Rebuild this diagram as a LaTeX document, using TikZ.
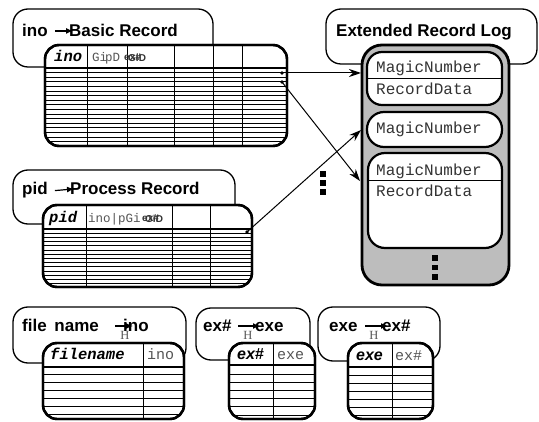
\documentclass[tikz,border=0pt]{standalone}
\usepackage{fontspec}
\setmainfont{Liberation Sans}
\newfontfamily\monof{Liberation Mono}
\newfontfamily\seriff{Liberation Serif}
\usetikzlibrary{arrows.meta}
\definecolor{logfill}{RGB}{189,189,189}
\definecolor{softtext}{RGB}{85,85,85}
\tikzset{
  titlebox/.style={draw, line width=1.3pt, rounded corners=15pt, fill=white},
  tablebox/.style={draw, line width=2.4pt, rounded corners=14pt, fill=white},
  tableedge/.style={draw, line width=2.4pt, rounded corners=14pt},
  rowline/.style={line width=0.7pt},
  colline/.style={line width=0.9pt},
  headline/.style={line width=1.1pt},
  titletext/.style={font=\fontsize{17}{18}\selectfont\bfseries, anchor=base west, inner sep=0pt},
  titlearrow/.style={line width=1.2pt, -{Latex[length=7pt,width=6pt]}},
  keytext/.style={font=\monof\bfseries\itshape\fontsize{15.5}{16}\selectfont, anchor=base west, inner sep=0pt},
  keysans/.style={font=\bfseries\itshape\fontsize{16}{16}\selectfont, anchor=base west, inner sep=0pt},
  valtext/.style={font=\monof\fontsize{15}{16}\selectfont, text=softtext, anchor=base west, inner sep=0pt},
  smallval/.style={font=\monof\fontsize{12.5}{13}\selectfont, text=softtext, anchor=base west, inner sep=0pt},
  tinybold/.style={font=\bfseries\fontsize{10}{10}\selectfont, text=black!80, anchor=base west, inner sep=0pt},
  magictext/.style={font=\monof\fontsize{16}{16}\selectfont, text=black!80, anchor=base west, inner sep=0pt},
  hmark/.style={font=\seriff\fontsize{12.5}{12}\selectfont, text=softtext, inner sep=0pt},
  dotnode/.style={circle, fill=black, inner sep=0pt, minimum size=3.6pt},
  sqdot/.style={rectangle, fill=black, inner sep=0pt, minimum size=5.6pt},
  linkarrow/.style={line width=1pt, -{Stealth[length=12pt,width=8pt]}},
  recbox/.style={draw, line width=2.2pt, fill=white},
}
\begin{document}
\begin{tikzpicture}[x=1pt,y=-1pt]
\useasboundingbox (0,0) rectangle (539,422);

% ---------------- Basic Record ----------------
\draw[titlebox] (13,9) rectangle (213,67);
\node[titletext] (bKey) at (22,37) {ino};
\node[titletext] (bName) at (69,37) {Basic Record};
\draw[titlearrow] ([xshift=7pt]bKey.east) -- ([xshift=4pt]bName.west);

\draw[tablebox] (45,45) rectangle (287,146);
\begin{scope}
  \clip[rounded corners=14pt] (45,45) rectangle (287,146);
  \foreach \yy in {72.6,77.2,...,143} \draw[rowline] (45,\yy) -- (287,\yy);
  \draw[headline] (45,68) -- (287,68);
  \foreach \xx in {87,127,174,213,242} \draw[colline] (\xx,45) -- (\xx,146);
\end{scope}
\draw[tableedge] (45,45) rectangle (287,146);
\node[keytext] (bH1) at (54,62) {ino};
\node[smallval] (bH2) at (92,62) {Gi};
\node[smallval] (bH3) at (105,62) {pD};
\node[tinybold] (bH4) at (124,61) {ex\#};
\node[tinybold] (bH5) at (128,62) {GiD};

\node[dotnode] (d1) at (282,73) {};
\node[dotnode] (d2) at (282,82) {};

% ---------------- Process Record ----------------
\draw[titlebox] (13,170) rectangle (235,224);
\node[titletext] (pKey) at (22,195) {pid};
\node[titletext] (pName) at (70,195) {Process Record};
\draw[titlearrow] ([xshift=7pt]pKey.east) -- ([xshift=4pt]pName.west);

\draw[tablebox] (43,205) rectangle (252,287);
\begin{scope}
  \clip[rounded corners=14pt] (43,205) rectangle (252,287);
  \foreach \yy in {233.2,237.4,...,286} \draw[rowline] (43,\yy) -- (252,\yy);
  \draw[headline] (43,229) -- (252,229);
  \foreach \xx in {86,172,210} \draw[colline] (\xx,205) -- (\xx,287);
\end{scope}
\draw[tableedge] (43,205) rectangle (252,287);
\node[keytext] (pH1) at (49,223) {pid};
\node[smallval] (pH2) at (88,223) {ino|pGi};
\node[tinybold] (pH3) at (142,222) {ex\#};
\node[tinybold] (pH4) at (145,223) {GiD};

\node[dotnode] (d3) at (247,232) {};

% ---------------- Extended Record Log ----------------
\draw[titlebox] (326,9) rectangle (537,64);
\node[titletext] (eName) at (336,37) {Extended Record Log};

\draw[line width=2.8pt, rounded corners=20pt, fill=logfill] (362,45) rectangle (509,285);

\draw[recbox, rounded corners=15pt] (367,52) rectangle (502,105);
\draw[line width=1pt] (367,79) -- (502,79);
\node[magictext] (r1a) at (376,73) {MagicNumber};
\node[magictext] (r1b) at (376,95) {RecordData};

\draw[recbox, rounded corners=17pt] (367,112) rectangle (502,147);
\node[magictext] (r2a) at (376,133.5) {MagicNumber};

\draw[recbox, rounded corners=17pt] (368,153) rectangle (502,248);
\draw[line width=1pt] (368,181) -- (502,181);
\node[magictext] (r3a) at (376,176) {MagicNumber};
\node[magictext] (r3b) at (376,197) {RecordData};

\node[sqdot] (v1) at (435,258) {};
\node[sqdot] (v2) at (435,267.5) {};
\node[sqdot] (v3) at (435,277) {};

\node[sqdot] (w1) at (323,174) {};
\node[sqdot] (w2) at (323,183) {};
\node[sqdot] (w3) at (323,192) {};

% connectors
\coordinate (t1) at (361,73);
\coordinate (t2) at (360,181);
\coordinate (t3) at (361,130);
\draw[linkarrow] (d1.center) -- (t1);
\draw[linkarrow] (d2.center) -- (t2);
\draw[linkarrow] (d3.center) -- (t3);

% ---------------- file name -> ino ----------------
\draw[titlebox] (13,307) rectangle (186,363);
\node[titletext] (fKey) at (22,332) {file\hspace{3pt} name};
\node[titletext] (fName) at (123,332) {ino};
\coordinate (fA) at (115,326);
\draw[titlearrow] (fA) -- ([xshift=10pt]fName.west |- fA);
\node[hmark] (fH) at (125,335) {H};

\draw[tablebox] (43,343) rectangle (184,419);
\begin{scope}
  \clip[rounded corners=14pt] (43,343) rectangle (184,419);
  \foreach \yy in {374.5,382.5,...,418} \draw[rowline] (43,\yy) -- (184,\yy);
  \draw[headline] (43,367) -- (184,367);
  \draw[colline] (143,343) -- (143,419);
\end{scope}
\draw[tableedge] (43,343) rectangle (184,419);
\node[keytext] (fH1) at (50,360) {filename};
\node[valtext] (fH2) at (147,360) {ino};

% ---------------- ex# -> exe ----------------
\draw[titlebox] (196,308) rectangle (310,360);
\node[titletext] (xKey) at (203,332) {ex\#};
\node[titletext] (xName) at (255,332) {exe};
\coordinate (xA) at (238,326);
\draw[titlearrow] (xA) -- ([xshift=5pt]xName.west |- xA);
\node[hmark] (xH) at (248,335) {H};

\draw[tablebox] (229,343) rectangle (315,419);
\begin{scope}
  \clip[rounded corners=14pt] (229,343) rectangle (315,419);
  \foreach \yy in {374,382.2,...,418} \draw[rowline] (229,\yy) -- (315,\yy);
  \draw[headline] (229,365) -- (315,365);
  \draw[colline] (273,343) -- (273,419);
\end{scope}
\draw[tableedge] (229,343) rectangle (315,419);
\node[keysans] (xH1) at (237,360) {ex\#};
\node[valtext] (xH2) at (277,360) {exe};

% ---------------- exe -> ex# ----------------
\draw[titlebox] (318,307) rectangle (440,361);
\node[titletext] (yKey) at (329,332) {exe};
\node[titletext] (yName) at (382,332) {ex\#};
\coordinate (yA) at (365,326);
\draw[titlearrow] (yA) -- ([xshift=6pt]yName.west |- yA);
\node[hmark] (yH) at (374,335) {H};

\draw[tablebox] (348,343) rectangle (433,419);
\begin{scope}
  \clip[rounded corners=14pt] (348,343) rectangle (433,419);
  \foreach \yy in {375,383,...,418} \draw[rowline] (348,\yy) -- (433,\yy);
  \draw[headline] (348,367) -- (433,367);
  \draw[colline] (392,343) -- (392,419);
\end{scope}
\draw[tableedge] (348,343) rectangle (433,419);
\node[keysans] (yH1) at (356,361) {exe};
\node[valtext] (yH2) at (395,361) {ex\#};

\end{tikzpicture}
\end{document}
